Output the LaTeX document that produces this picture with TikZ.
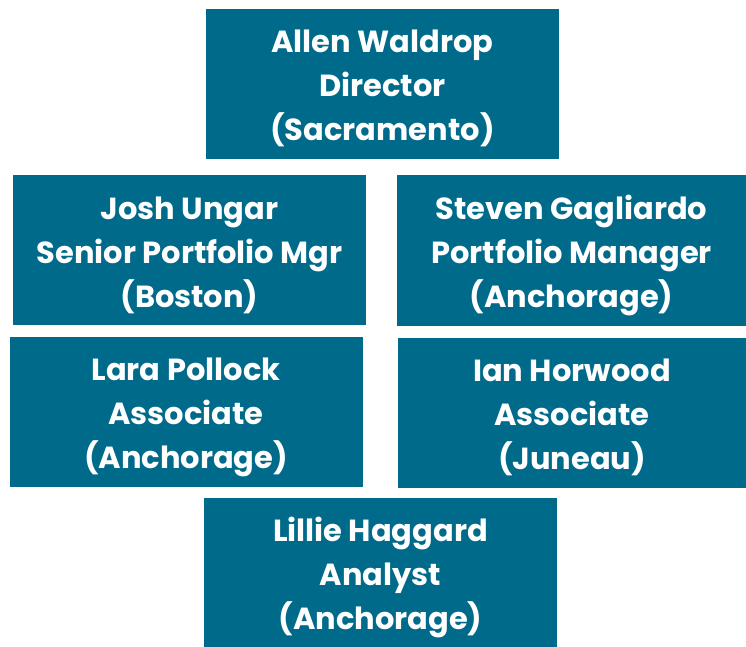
\documentclass[tikz,border=0pt]{standalone}
\usepackage{fontspec}
\setmainfont{Poppins}
\usetikzlibrary{positioning}
\definecolor{orgteal}{HTML}{006A8B}
\tikzset{
  orgbox/.style={fill=orgteal, draw=none, inner sep=0pt, align=center,
                 text=white, font=\fontsize{30.5}{44}\selectfont\bfseries,
                 minimum height=150pt, text height=114pt, text depth=0pt},
  narrowbox/.style={orgbox, minimum width=353pt},
  widebox/.style={orgbox, minimum width=349pt}}
\begin{document}
\begin{tikzpicture}[x=1pt,y=-1pt]
        \useasboundingbox (0,0) rectangle (746,647);
        % director
        \node[narrowbox] (dir) at (382.5,84)
          {Allen Waldrop\\ Director\\ (Sacramento)};
        % portfolio managers
        \node[narrowbox] (josh) at (189.5,250)
          {Josh Ungar\\ Senior Portfolio Mgr\\ (Boston)};
        \node[widebox] (steven) at (571.5,250.5)
          {Steven Gagliardo\\ Portfolio Manager\\ (Anchorage)};
        % associates
        \node[narrowbox] (lara) at (186,411.5)
          {Lara Pollock\\ Associate\\ (Anchorage)};
        \node[widebox] (ian) at (572,412.5)
          {Ian Horwood\\ Associate\\ (Juneau)};
        % analyst
        \node[narrowbox, minimum height=149pt] (lillie) at (380.5,572.5)
          {Lillie Haggard\\ Analyst\\ (Anchorage)};
      \end{tikzpicture}
\end{document}
